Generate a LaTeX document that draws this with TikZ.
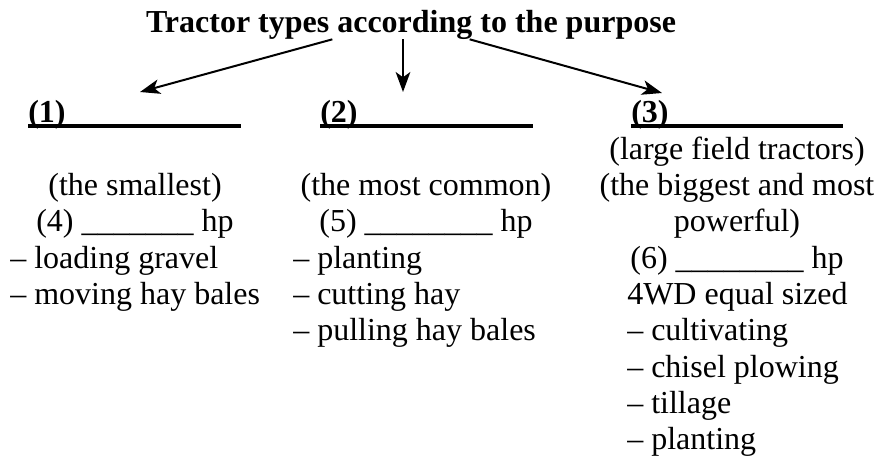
\documentclass[tikz,border=0pt]{standalone}
\usepackage{fontspec}
\setmainfont{Liberation Serif}
\usetikzlibrary{arrows.meta}

\begin{document}
\begin{tikzpicture}[x=0.75pt,y=-0.75pt,
  every node/.style={inner sep=0pt,font=\fontsize{24}{28}\selectfont},
  topic/.style={anchor=base,font=\fontsize{24}{28}\selectfont\bfseries},
  heading/.style={anchor=base west,font=\fontsize{24}{28}\selectfont\bfseries},
  mid/.style={anchor=base},
  item/.style={anchor=base west},
  arr/.style={line width=1.5pt,-{Stealth[length=15pt,width=11pt,inset=4pt]}},
  rule/.style={line width=3pt}]
\useasboundingbox (0,0) rectangle (877,457);

\node[topic] (title) at (411,32) {Tractor types according to the purpose};

\node[heading] (h1) at (28,122) {(1)};
\node[heading] (h2) at (320,122) {(2)};
\node[heading] (h3) at (631,122) {(3)};
\draw[rule] ([yshift=-3pt]h1.base west) -- ++(213,0);
\draw[rule] ([yshift=-3pt]h2.base west) -- ++(213,0);
\draw[rule] ([yshift=-3pt]h3.base west) -- ++(212,0);

\coordinate (e1) at (140,92);
\coordinate (e2) at (403,92);
\coordinate (e3) at (662,93);
\draw[arr] ([xshift=-59pt]title.south) -- (e1);
\draw[arr] ([xshift=-6pt]title.south) -- (e2);
\draw[arr] ([xshift=44pt]title.south) -- (e3);

\node[mid] (c1a) at (135,195) {(the smallest)};
\node[mid] (c1b) at (135,231) {(4) \_\_\_\_\_\_\_ hp};
\node[item] (c1c) at (10,268) {\textendash{} loading gravel};
\node[item] (c1d) at (10,304) {\textendash{} moving hay bales};

\node[mid] (c2a) at (426,195) {(the most common)};
\node[mid] (c2b) at (426,231) {(5) \_\_\_\_\_\_\_\_ hp};
\node[item] (c2c) at (293,268) {\textendash{} planting};
\node[item] (c2d) at (293,304) {\textendash{} cutting hay};
\node[item] (c2e) at (293,340) {\textendash{} pulling hay bales};

\node[mid] (c3a) at (737,159) {(large field tractors)};
\node[mid] (c3b) at (737,195) {(the biggest and most};
\node[mid] (c3c) at (737,231) {powerful)};
\node[mid] (c3d) at (737,268) {(6) \_\_\_\_\_\_\_\_ hp};
\node[item] (c3e) at (627,304) {4WD equal sized};
\node[item] (c3f) at (627,340) {\textendash{} cultivating};
\node[item] (c3g) at (627,377) {\textendash{} chisel plowing};
\node[item] (c3h) at (627,413) {\textendash{} tillage};
\node[item] (c3i) at (627,449) {\textendash{} planting};
\end{tikzpicture}
\end{document}
